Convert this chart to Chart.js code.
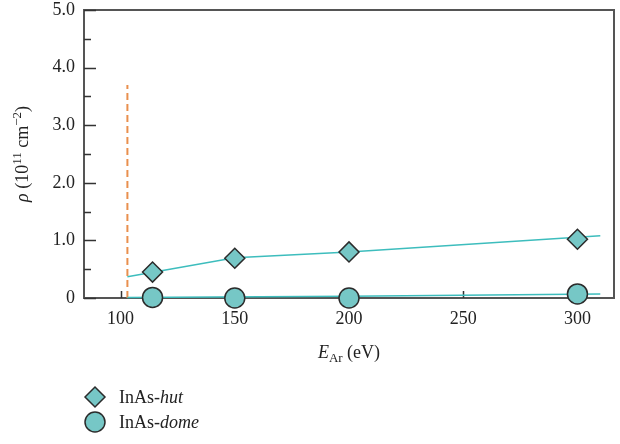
<!DOCTYPE html>
<html>
<head>
<meta charset="utf-8">
<script src="https://cdn.jsdelivr.net/npm/chart.js@4.4.1/dist/chart.umd.min.js"></script>
<style>
  html, body { margin: 0; padding: 0; background: #fff; }
  #wrap { width: 620px; height: 444px; position: relative; }
</style>
</head>
<body>
<div id="wrap"><canvas id="density"></canvas></div>
<script>
// measured island densities vs Ar ion energy
const hutEnergy = [114, 150, 200, 300]
const hutDensity = [0.45, 0.69, 0.80, 1.02]
const domeEnergy = [114, 150, 200, 300]
const domeDensity = [0.01, 0.0, 0.0, 0.07]

// guide lines through the data
const hutFitEnergy = [103, 150, 200, 310]
const hutFitDensity = [0.37, 0.70, 0.80, 1.08]
const domeFitEnergy = [103, 200, 310]
const domeFitDensity = [0.01, 0.03, 0.07]

// threshold energy marker
const thresholdEnergy = [103, 103]
const thresholdDensity = [0, 3.7]

const xTickValues = [100, 150, 200, 250, 300]
const yTickValues = [0, 0.5, 1, 1.5, 2, 2.5, 3, 3.5, 4, 4.5, 5]
const yLabelValues = [0, 1, 2, 3, 4, 5]

const legendItems = [
  { name: 'InAs-', style: 'hut', marker: 'rectRot' },
  { name: 'InAs-', style: 'dome', marker: 'circle' }
]

const teal = '#3dbdbd'
const markerFill = '#76c7c6'
const markerEdge = '#2b2b2b'
const serif = '"Liberation Serif", "DejaVu Serif", serif'

const pairs = (xs, ys) => xs.map((x, i) => ({ x: x, y: ys[i] }))

// draws a list of text runs with their own font and baseline shift
function drawRuns(ctx, runs, x, y, align) {
  let total = 0
  runs.forEach(r => { ctx.font = r.font; total += ctx.measureText(r.text).width })
  let cx = align === 'center' ? x - total / 2 : x
  ctx.textAlign = 'left'
  ctx.textBaseline = 'alphabetic'
  runs.forEach(r => {
    ctx.font = r.font
    ctx.fillText(r.text, cx, y + (r.dy || 0))
    cx += ctx.measureText(r.text).width
  })
}

const frame = {
  id: 'frame',
  beforeDatasetsDraw(chart) {
    const ctx = chart.ctx
    const a = chart.chartArea
    const xs = chart.scales.x
    const ys = chart.scales.y
    ctx.save()
    ctx.strokeStyle = '#555'
    ctx.lineWidth = 2
    ctx.strokeRect(a.left, a.top, a.right - a.left, a.bottom - a.top)

    // inward tick marks
    ctx.strokeStyle = '#333'
    ctx.lineWidth = 1.5
    ctx.beginPath()
    yTickValues.forEach(v => {
      const py = Math.round(ys.getPixelForValue(v)) + 0.5
      const len = yLabelValues.includes(v) ? 12 : 7
      ctx.moveTo(a.left, py)
      ctx.lineTo(a.left + len, py)
    })
    xTickValues.forEach(v => {
      const px = Math.round(xs.getPixelForValue(v)) + 0.5
      ctx.moveTo(px, a.bottom)
      ctx.lineTo(px, a.bottom - 7)
    })
    ctx.stroke()
    ctx.restore()
  },
  afterDraw(chart) {
    const ctx = chart.ctx
    const a = chart.chartArea
    ctx.save()
    ctx.fillStyle = '#222'

    // x axis title
    drawRuns(ctx, [
      { text: 'E', font: 'italic 18px ' + serif },
      { text: 'Ar', font: '13px ' + serif, dy: 4 },
      { text: ' (eV)', font: '18px ' + serif }
    ], (a.left + a.right) / 2, 358, 'center')

    // y axis title
    ctx.save()
    ctx.translate(28, (a.top + a.bottom) / 2)
    ctx.rotate(-Math.PI / 2)
    drawRuns(ctx, [
      { text: 'ρ', font: 'italic 18px ' + serif },
      { text: ' (10', font: '18px ' + serif },
      { text: '11', font: '13px ' + serif, dy: -7 },
      { text: ' cm', font: '18px ' + serif },
      { text: '−2', font: '13px ' + serif, dy: -7 },
      { text: ')', font: '18px ' + serif }
    ], 0, 0, 'center')
    ctx.restore()

    // legend
    legendItems.forEach((item, i) => {
      const cy = 397 + i * 25
      ctx.fillStyle = markerFill
      ctx.strokeStyle = markerEdge
      ctx.lineWidth = 1.5
      Chart.helpers.drawPoint(ctx, { pointStyle: item.marker, radius: 10, rotation: 0, borderWidth: 1.5 }, 95, cy)
      ctx.fillStyle = '#222'
      drawRuns(ctx, [
        { text: item.name, font: '18px ' + serif },
        { text: item.style, font: 'italic 18px ' + serif }
      ], 119, cy + 6, 'left')
    })
    ctx.restore()
  }
}

const fitLine = (pts, color) => ({
  data: pts,
  showLine: true,
  borderColor: color,
  borderWidth: 1.5,
  pointRadius: 0,
  order: 2,
  clip: false
})

const markers = (pts, style) => ({
  data: pts,
  showLine: false,
  pointStyle: style,
  pointRadius: 10,
  pointHoverRadius: 10,
  pointBackgroundColor: markerFill,
  pointBorderColor: markerEdge,
  pointBorderWidth: 1.5,
  order: 0,
  clip: false
})

const threshold = fitLine(pairs(thresholdEnergy, thresholdDensity), '#e98f4e')
threshold.borderDash = [7, 4]
threshold.borderWidth = 2
threshold.order = 3

// fixed axis boxes so the plot frame sits where it should
const fixX = s => { s.height = 60; s.paddingLeft = 0; s.paddingRight = 0 }
const fixY = s => { s.width = 84; s.paddingTop = 0; s.paddingBottom = 0 }

new Chart(document.getElementById('density'), {
  type: 'scatter',
  data: {
    datasets: [
      threshold,
      fitLine(pairs(hutFitEnergy, hutFitDensity), teal),
      fitLine(pairs(domeFitEnergy, domeFitDensity), teal),
      markers(pairs(hutEnergy, hutDensity), 'rectRot'),
      markers(pairs(domeEnergy, domeDensity), 'circle')
    ]
  },
  options: {
    responsive: true,
    maintainAspectRatio: false,
    animation: false,
    devicePixelRatio: 1,
    layout: { autoPadding: false, padding: { left: 0, top: 10, right: 6, bottom: 86 } },
    plugins: { legend: { display: false }, tooltip: { enabled: false } },
    scales: {
      x: {
        type: 'linear',
        min: 84,
        max: 316,
        afterBuildTicks: s => { s.ticks = xTickValues.map(v => ({ value: v })) },
        afterFit: fixX,
        grid: { display: false, drawTicks: false },
        border: { display: false },
        ticks: {
          padding: 10,
          color: '#222',
          font: { family: serif, size: 18 },
          maxRotation: 0,
          callback: v => String(v)
        }
      },
      y: {
        type: 'linear',
        min: 0,
        max: 5,
        afterBuildTicks: s => { s.ticks = yTickValues.map(v => ({ value: v })) },
        afterFit: fixY,
        grid: { display: false, drawTicks: false },
        border: { display: false },
        ticks: {
          padding: 9,
          color: '#222',
          font: { family: serif, size: 18 },
          autoSkip: false,
          callback: v => yLabelValues.includes(v) ? (v === 0 ? '0' : v.toFixed(1)) : ''
        }
      }
    }
  },
  plugins: [frame]
})
</script>
</body>
</html>
